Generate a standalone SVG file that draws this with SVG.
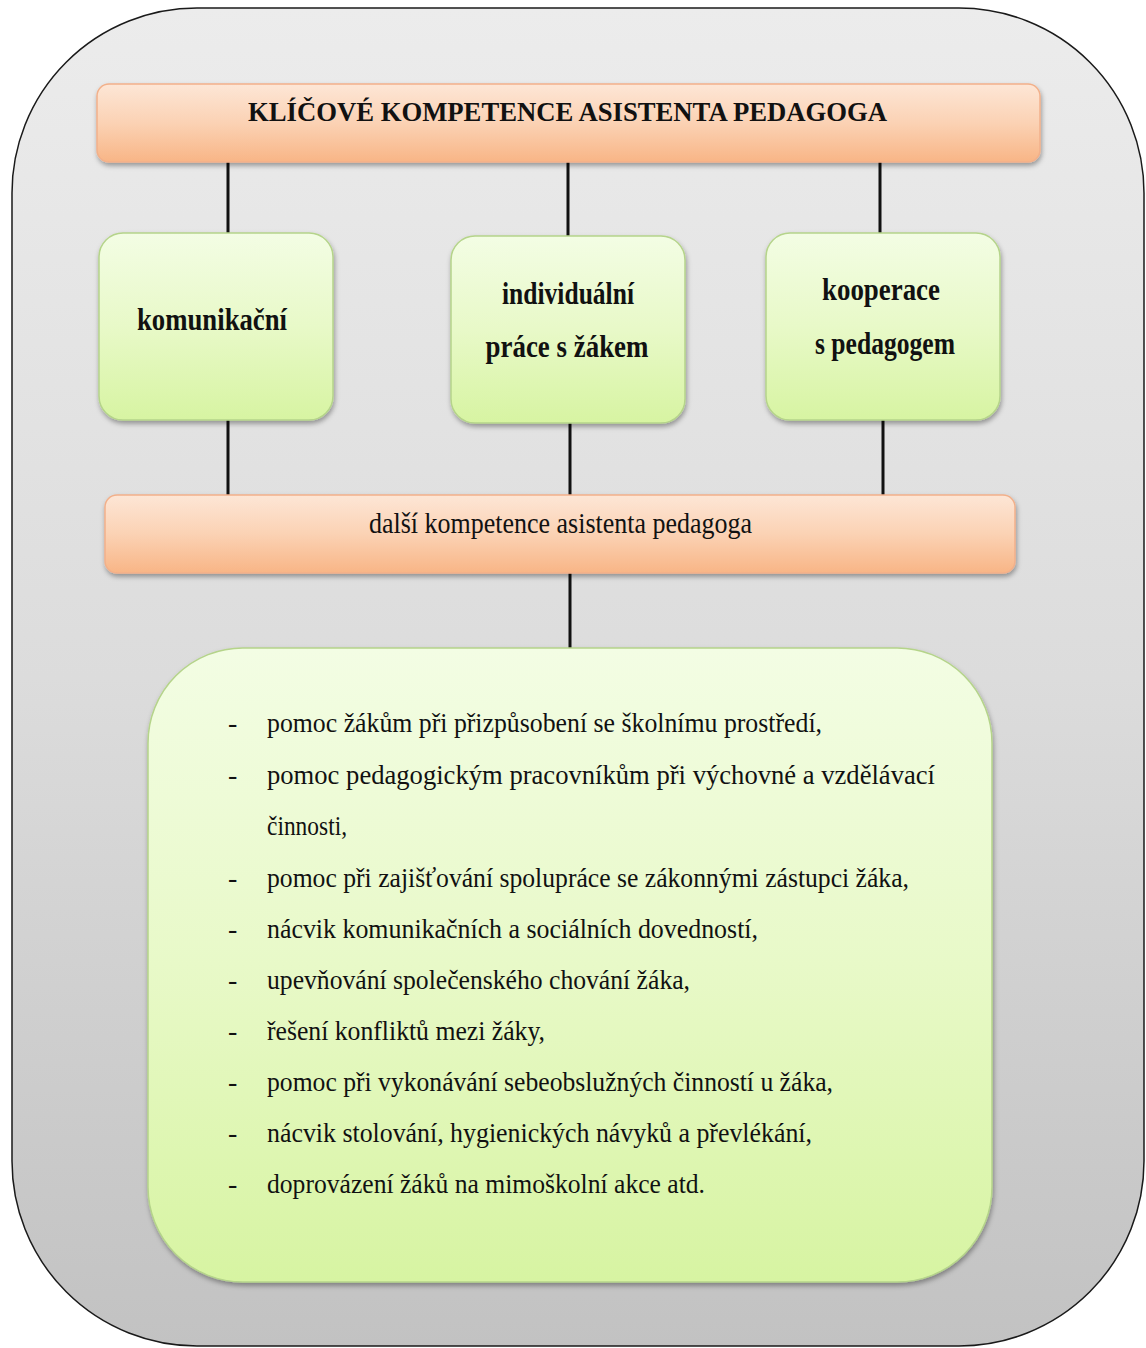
<svg xmlns="http://www.w3.org/2000/svg" width="1146" height="1348" viewBox="0 0 1146 1348">
  <style>
    .title { font-family: "Liberation Serif", "Times New Roman", serif; font-weight: bold; font-size: 27px; fill: #111; }
    .lbl { font-family: "Liberation Serif", "Times New Roman", serif; font-weight: bold; font-size: 31px; fill: #111; text-anchor: middle; }
    .sub { font-family: "Liberation Serif", "Times New Roman", serif; font-size: 29px; fill: #111; }
    .li { font-family: "Liberation Serif", "Times New Roman", serif; font-size: 28px; fill: #111; }
    .orange { fill: url(#gOrange); stroke: #f2b08a; stroke-width: 1.5; filter: url(#shadow); }
    .green { fill: url(#gGreen); stroke: #b5d48a; stroke-width: 1.5; filter: url(#shadow); }
    .conn { stroke: #111; stroke-width: 3; fill: none; }
  </style>
  <defs>
    <linearGradient id="gOuter" x1="0" y1="0" x2="0" y2="1">
      <stop offset="0" stop-color="#ececec"/>
      <stop offset="0.5" stop-color="#dcdcdc"/>
      <stop offset="1" stop-color="#c2c2c2"/>
    </linearGradient>
    <linearGradient id="gOrange" x1="0" y1="0" x2="0" y2="1">
      <stop offset="0" stop-color="#fde6d6"/>
      <stop offset="0.5" stop-color="#fbd2b4"/>
      <stop offset="1" stop-color="#f8b586"/>
    </linearGradient>
    <linearGradient id="gGreen" x1="0" y1="0" x2="0" y2="1">
      <stop offset="0" stop-color="#f3fde4"/>
      <stop offset="0.5" stop-color="#e8f9c8"/>
      <stop offset="1" stop-color="#d7f4a2"/>
    </linearGradient>
    <filter id="shadow" x="-10%" y="-10%" width="120%" height="125%">
      <feDropShadow dx="1" dy="3" stdDeviation="2.5" flood-color="#000" flood-opacity="0.35"/>
    </filter>
  </defs>

  <g id="background">
    <rect x="12" y="8" width="1132" height="1338" rx="185" ry="185" fill="url(#gOuter)" stroke="#1a1a1a" stroke-width="1.5"/>
  </g>

  <g id="connectors">
    <line class="conn" x1="228" y1="162" x2="228" y2="233"/>
    <line class="conn" x1="568" y1="162" x2="568" y2="236"/>
    <line class="conn" x1="880" y1="162" x2="880" y2="233"/>
    <line class="conn" x1="228" y1="420" x2="228" y2="495"/>
    <line class="conn" x1="570" y1="423" x2="570" y2="495"/>
    <line class="conn" x1="883" y1="420" x2="883" y2="495"/>
    <line class="conn" x1="570" y1="573" x2="570" y2="648"/>
  </g>

  <g id="node-title">
    <rect class="orange" x="97" y="84" width="943" height="78" rx="12" ry="12"/>
    <text class="title" x="248" y="121" textLength="639" lengthAdjust="spacingAndGlyphs">KLÍČOVÉ KOMPETENCE ASISTENTA PEDAGOGA</text>
  </g>

  <g id="node-komunikacni">
    <rect class="green" x="99" y="233" width="234" height="187" rx="24" ry="24"/>
    <text class="lbl" x="212" y="330" textLength="150" lengthAdjust="spacingAndGlyphs">komunikační</text>
  </g>

  <g id="node-individualni">
    <rect class="green" x="451" y="236" width="234" height="187" rx="24" ry="24"/>
    <text class="lbl" x="568" y="304" textLength="132" lengthAdjust="spacingAndGlyphs">individuální</text>
    <text class="lbl" x="567" y="357" textLength="163" lengthAdjust="spacingAndGlyphs">práce s žákem</text>
  </g>

  <g id="node-kooperace">
    <rect class="green" x="766" y="233" width="234" height="187" rx="24" ry="24"/>
    <text class="lbl" x="881" y="300" textLength="118" lengthAdjust="spacingAndGlyphs">kooperace</text>
    <text class="lbl" x="885" y="354" textLength="140" lengthAdjust="spacingAndGlyphs">s pedagogem</text>
  </g>

  <g id="node-dalsi">
    <rect class="orange" x="105" y="495" width="910" height="78" rx="12" ry="12"/>
    <text class="sub" x="369" y="533" textLength="383" lengthAdjust="spacingAndGlyphs">další kompetence asistenta pedagoga</text>
  </g>

  <g id="node-list">
    <rect class="green" x="148" y="648" width="844" height="634" rx="95" ry="95"/>
    <g class="li">
      <text x="228" y="732">-</text>
      <text x="267" y="732" textLength="555" lengthAdjust="spacingAndGlyphs">pomoc žákům při přizpůsobení se školnímu prostředí,</text>
      <text x="228" y="784">-</text>
      <text x="267" y="784" textLength="668" lengthAdjust="spacingAndGlyphs">pomoc pedagogickým pracovníkům při výchovné a vzdělávací</text>
      <text x="267" y="835" textLength="80" lengthAdjust="spacingAndGlyphs">činnosti,</text>
      <text x="228" y="887">-</text>
      <text x="267" y="887" textLength="642" lengthAdjust="spacingAndGlyphs">pomoc při zajišťování spolupráce se zákonnými zástupci žáka,</text>
      <text x="228" y="938">-</text>
      <text x="267" y="938" textLength="491" lengthAdjust="spacingAndGlyphs">nácvik komunikačních a sociálních dovedností,</text>
      <text x="228" y="989">-</text>
      <text x="267" y="989" textLength="423" lengthAdjust="spacingAndGlyphs">upevňování společenského chování žáka,</text>
      <text x="228" y="1040">-</text>
      <text x="267" y="1040" textLength="278" lengthAdjust="spacingAndGlyphs">řešení konfliktů mezi žáky,</text>
      <text x="228" y="1091">-</text>
      <text x="267" y="1091" textLength="566" lengthAdjust="spacingAndGlyphs">pomoc při vykonávání sebeobslužných činností u žáka,</text>
      <text x="228" y="1142">-</text>
      <text x="267" y="1142" textLength="545" lengthAdjust="spacingAndGlyphs">nácvik stolování, hygienických návyků a převlékání,</text>
      <text x="228" y="1193">-</text>
      <text x="267" y="1193" textLength="438" lengthAdjust="spacingAndGlyphs">doprovázení žáků na mimoškolní akce atd.</text>
    </g>
  </g>
</svg>
